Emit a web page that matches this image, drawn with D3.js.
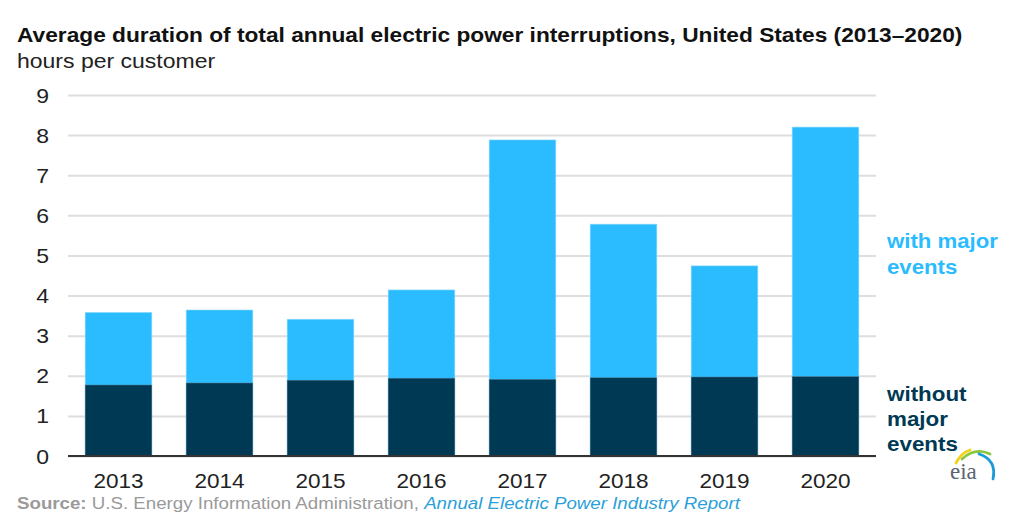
<!DOCTYPE html>
<html>
<head>
<meta charset="utf-8">
<script src="https://cdn.jsdelivr.net/npm/d3@7"></script>
<style>
  html, body { margin: 0; padding: 0; background: #fff; }
  svg { display: block; font-family: "Liberation Sans", Arial, sans-serif; }
</style>
</head>
<body>
<svg id="chart" width="1024" height="517"></svg>
<script>
const years = ["2013", "2014", "2015", "2016", "2017", "2018", "2019", "2020"];
const withMajor = [3.58, 3.64, 3.41, 4.14, 7.88, 5.78, 4.74, 8.20];
const withoutMajor = [1.77, 1.82, 1.89, 1.94, 1.91, 1.95, 1.97, 1.98];
const yTicks = [0, 1, 2, 3, 4, 5, 6, 7, 8, 9];
const titleText = "Average duration of total annual electric power interruptions, United States (2013\u20132020)";
const unitText = "hours per customer";
const legendWith = ["with major", "events"];
const legendWithout = ["without", "major", "events"];

const lightBlue = "#2bbbff";
const darkBlue = "#003953";

const svg = d3.select("#chart");
const x = d3.scaleBand().domain(years).range([68, 876]).paddingInner(0.34).paddingOuter(0.17);
const y = d3.scaleLinear().domain([0, 9]).range([456, 95]);

// place text at (px,py) with horizontal stretch sx
function put(sel, px, py, sx) {
  return sel.attr("x", 0).attr("y", 0).attr("transform", `translate(${px},${py}) scale(${sx},1)`);
}

// title
put(svg.append("text"), 17, 42, 1.165)
  .attr("font-size", 19.5).attr("font-weight", "bold").attr("fill", "#111")
  .text(titleText);
put(svg.append("text"), 17, 68, 1.18)
  .attr("font-size", 19.5).attr("fill", "#222")
  .text(unitText);

// gridlines
const grid = svg.append("g").attr("transform", "translate(68,0)")
  .call(d3.axisLeft(y).tickValues(yTicks).tickSize(-(876 - 68)).tickFormat(""));
grid.select(".domain").remove();
grid.selectAll("line").attr("stroke", "#dedede").attr("stroke-width", 2);

// y labels
svg.append("g").selectAll("text").data(yTicks).join("text")
  .each(function(d) { put(d3.select(this), 49, y(d) + 7.5, 1.15); })
  .attr("text-anchor", "end").attr("font-size", 20).attr("fill", "#222")
  .text(d => d);

// bars
svg.append("g").selectAll("rect").data(years).join("rect")
  .attr("x", d => x(d)).attr("width", x.bandwidth())
  .attr("y", (d, i) => y(withMajor[i])).attr("height", (d, i) => y(0) - y(withMajor[i]))
  .attr("fill", lightBlue).attr("stroke", "#8fdcff").attr("stroke-width", 0.6);
svg.append("g").selectAll("rect").data(years).join("rect")
  .attr("x", d => x(d)).attr("width", x.bandwidth())
  .attr("y", (d, i) => y(withoutMajor[i])).attr("height", (d, i) => y(0) - y(withoutMajor[i]))
  .attr("fill", darkBlue).attr("stroke", "#5a7d8f").attr("stroke-width", 0.5);

// baseline
svg.append("line").attr("x1", 68).attr("x2", 876).attr("y1", y(0)).attr("y2", y(0))
  .attr("stroke", "#333").attr("stroke-width", 2);

// x labels
const xAxis = svg.append("g").attr("transform", `translate(0,${y(0)})`)
  .call(d3.axisBottom(x).tickSize(0).tickPadding(0));
xAxis.select(".domain").remove();
xAxis.selectAll("text")
  .attr("dy", 0).attr("y", 0).attr("transform", "translate(0,32) scale(1.13,1)")
  .attr("font-size", 20).attr("fill", "#222")
  .attr("font-family", "Liberation Sans, Arial, sans-serif");

// legend labels
svg.append("g").selectAll("text").data(legendWith).join("text")
  .each(function(d, i) { put(d3.select(this), 887, 248 + i * 26, 1.11); })
  .attr("font-size", 20).attr("font-weight", "bold").attr("fill", lightBlue)
  .text(d => d);
svg.append("g").selectAll("text").data(legendWithout).join("text")
  .each(function(d, i) { put(d3.select(this), 887, 401 + i * 25, 1.12); })
  .attr("font-size", 20).attr("font-weight", "bold").attr("fill", darkBlue)
  .text(d => d);

// source
const src = put(svg.append("text"), 17, 509, 1.133).attr("font-size", 16.5);
src.append("tspan").attr("font-weight", "bold").attr("fill", "#9a9a9a").text("Source:");
src.append("tspan").attr("fill", "#9a9a9a").text(" U.S. Energy Information Administration, ");
src.append("tspan").attr("fill", "#2a9fd8").attr("font-style", "italic").text("Annual Electric Power Industry Report");

// eia logo
const logo = svg.append("g");
logo.append("path").attr("d", "M956,463 Q961,453 970,450").attr("fill", "none").attr("stroke", "#f2d21b").attr("stroke-width", 2.8).attr("stroke-linecap", "round");
logo.append("path").attr("d", "M962,459 Q975,447 990,454").attr("fill", "none").attr("stroke", "#8cc63f").attr("stroke-width", 2.8).attr("stroke-linecap", "round");
logo.append("path").attr("d", "M979,454 Q997,460 993,479").attr("fill", "none").attr("stroke", "#1a9ad6").attr("stroke-width", 2.8).attr("stroke-linecap", "round");
logo.append("text").attr("x", 950).attr("y", 479).attr("font-size", 23)
  .attr("font-family", "Liberation Serif, DejaVu Serif, serif").attr("fill", "#5a6470")
  .text("eia");
</script>
</body>
</html>
